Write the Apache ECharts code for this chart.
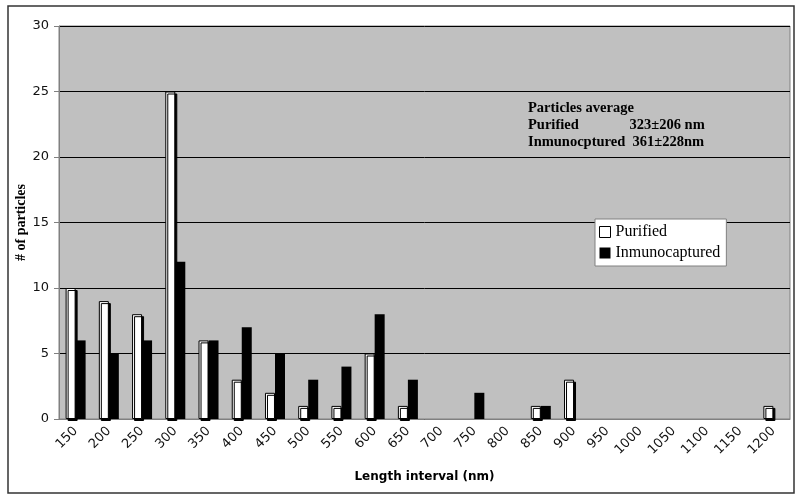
<!DOCTYPE html>
<html>
<head>
<meta charset="utf-8">
<script src="https://cdn.jsdelivr.net/npm/echarts@6/dist/echarts.min.js"></script>
<style>
  html, body { margin: 0; padding: 0; background: #fff; }
  #chart { width: 800px; height: 500px; }
</style>
</head>
<body>
<div id="chart"></div>
<script>
const categories = ['150', '200', '250', '300', '350', '400', '450', '500', '550', '600', '650',
  '700', '750', '800', '850', '900', '950', '1000', '1050', '1100', '1150', '1200']
const purified = [10, 9, 8, 25, 6, 3, 2, 1, 1, 5, 1, 0, 0, 0, 1, 3, 0, 0, 0, 0, 0, 1]
const immuno = [6, 5, 6, 12, 6, 7, 5, 3, 4, 8, 3, 0, 2, 0, 1, 0, 0, 0, 0, 0, 0, 0]
const noteLines = ['Particles average', 'Purified              323±206 nm', 'Inmunocptured  361±228nm']

// empty intervals draw no bar
const hideZero = arr => arr.map(v => (v === 0 ? '-' : v))

const myChart = echarts.init(document.getElementById('chart'))
myChart.setOption({
  animation: false,
  grid: {
    left: 59, right: 10, top: 26, bottom: 81,
    show: true, backgroundColor: '#c0c0c0', borderColor: '#808080', borderWidth: 1
  },
  legend: {
    orient: 'vertical',
    left: 595, top: 219,
    backgroundColor: '#fff',
    borderColor: '#808080', borderWidth: 1,
    padding: [5, 6, 5, 4],
    itemGap: 5,
    itemWidth: 11, itemHeight: 11,
    icon: 'rect',
    textStyle: { fontFamily: 'Liberation Serif', fontSize: 16, color: '#000' },
    data: [
      { name: 'Purified', itemStyle: { color: '#fff', borderColor: '#000', borderWidth: 1, shadowBlur: 0, shadowOffsetX: 0, shadowOffsetY: 0 } },
      { name: 'Inmunocaptured', itemStyle: { color: '#000' } }
    ]
  },
  xAxis: {
    type: 'category',
    data: categories,
    name: 'Length interval (nm)',
    nameLocation: 'middle',
    nameGap: 52,
    nameTextStyle: { fontFamily: 'DejaVu Sans', fontWeight: 'bold', fontSize: 12, color: '#000' },
    axisLine: { lineStyle: { color: '#808080' } },
    axisTick: { lineStyle: { color: '#808080' }, length: 5 },
    axisLabel: { rotate: 45, fontFamily: 'DejaVu Sans', fontSize: 13, color: '#111', margin: 10, interval: 0 }
  },
  yAxis: {
    type: 'value',
    min: 0, max: 30, interval: 5,
    name: '# of particles',
    nameLocation: 'middle',
    nameGap: 31,
    nameMoveOverlap: false,
    nameTextStyle: { fontFamily: 'Liberation Serif', fontWeight: 'bold', fontSize: 14, color: '#000' },
    axisLine: { show: true, lineStyle: { color: '#808080' } },
    axisTick: { show: true, lineStyle: { color: '#808080' }, length: 5 },
    axisLabel: { fontFamily: 'DejaVu Sans', fontSize: 13, color: '#111', margin: 10 },
    splitLine: { lineStyle: { color: '#000', width: 1 } }
  },
  series: [
    {
      name: 'Purified',
      type: 'bar',
      data: hideZero(purified),
      barWidth: 10,
      barGap: '0%',
      itemStyle: {
        color: '#fff', borderColor: '#000', borderWidth: 1,
        shadowColor: '#000', shadowBlur: 0, shadowOffsetX: 2, shadowOffsetY: 2
      }
    },
    {
      name: 'Inmunocaptured',
      type: 'bar',
      data: hideZero(immuno),
      barWidth: 10,
      barGap: '0%',
      itemStyle: { color: '#000' }
    }
  ],
  graphic: [
    {
      type: 'rect',
      shape: { x: 8, y: 6, width: 786, height: 487 },
      style: { fill: 'none', stroke: '#333', lineWidth: 1.5 },
      silent: true, z: -1
    },
    {
      type: 'text',
      left: 528, top: 100,
      style: {
        text: noteLines.join('\n'),
        font: 'bold 14.5px "Liberation Serif"',
        lineHeight: 17,
        fill: '#000'
      }
    }
  ]
})
</script>
</body>
</html>
